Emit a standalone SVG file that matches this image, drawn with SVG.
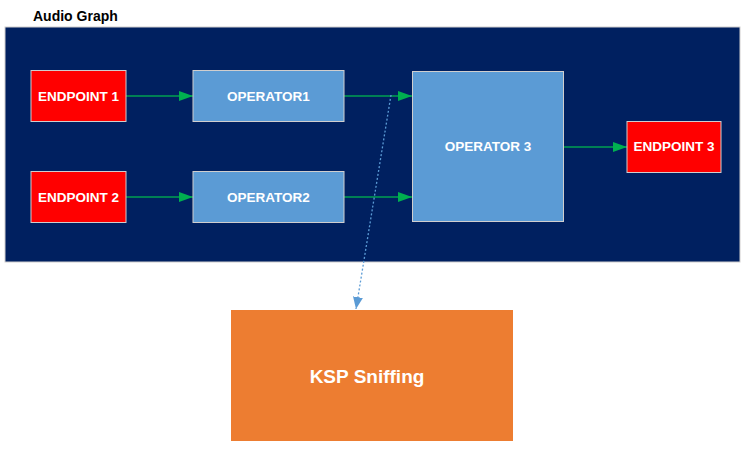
<svg xmlns="http://www.w3.org/2000/svg" width="746" height="459" viewBox="0 0 746 459">
<defs>
<style>
.lbl{font-family:"Liberation Sans",Arial,sans-serif;font-weight:bold;fill:#fff;font-size:13.5px;text-anchor:middle;dominant-baseline:central}
.ep{fill:#ff0000;stroke:#d0cece;stroke-width:1}
.op{fill:#5b9bd5;stroke:#d0cece;stroke-width:1}
.g{stroke:#00a050;stroke-width:1.4;fill:none;marker-end:url(#ga)}
</style>
<marker id="ga" markerWidth="14" markerHeight="10" refX="14" refY="5" orient="auto" markerUnits="userSpaceOnUse">
<path d="M0,0 L14,5 L0,10 z" fill="#00b050"/>
</marker>
<marker id="ba" markerWidth="12" markerHeight="12" refX="12" refY="5" orient="auto" markerUnits="userSpaceOnUse">
<path d="M0,0 L12,5 L0,10 z" fill="#5b9bd5"/>
</marker>
</defs>
<rect width="746" height="459" fill="#fff"/>
<text x="33" y="21" font-family="'Liberation Sans',Arial,sans-serif" font-weight="bold" font-size="14" fill="#000">Audio Graph</text>
<g id="container"><rect x="5" y="27" width="735" height="235" fill="#002060" stroke="#d0cece" stroke-width="1"/></g>
<g id="connectors">
<line class="g" x1="126" y1="96" x2="193" y2="96"/>
<line class="g" x1="344" y1="96" x2="412" y2="96"/>
<line class="g" x1="126" y1="197" x2="193" y2="197"/>
<line class="g" x1="344" y1="197" x2="412" y2="197"/>
<line class="g" x1="563" y1="147" x2="627" y2="147"/>
<line x1="391" y1="95" x2="356" y2="309" stroke="#5b9bd5" stroke-width="1.3" stroke-dasharray="2,2" marker-end="url(#ba)"/>
</g>
<g id="endpoint1"><rect class="ep" x="31" y="70.5" width="95" height="51"/><text class="lbl" x="78.5" y="96">ENDPOINT 1</text></g>
<g id="operator1"><rect class="op" x="193" y="70.5" width="151" height="51"/><text class="lbl" x="268.5" y="96">OPERATOR1</text></g>
<g id="endpoint2"><rect class="ep" x="31" y="171.5" width="95" height="51"/><text class="lbl" x="78.5" y="197">ENDPOINT 2</text></g>
<g id="operator2"><rect class="op" x="193" y="171.5" width="151" height="51"/><text class="lbl" x="268.5" y="197">OPERATOR2</text></g>
<g id="operator3"><rect class="op" x="412.5" y="71.5" width="151" height="150"/><text class="lbl" x="488" y="146">OPERATOR 3</text></g>
<g id="endpoint3"><rect class="ep" x="627" y="121.5" width="94" height="51"/><text class="lbl" x="674" y="146">ENDPOINT 3</text></g>
<g id="ksp"><rect x="231" y="310" width="282" height="131" fill="#ed7d31"/><text class="lbl" x="367" y="376" style="font-size:19px">KSP Sniffing</text></g>
</svg>
